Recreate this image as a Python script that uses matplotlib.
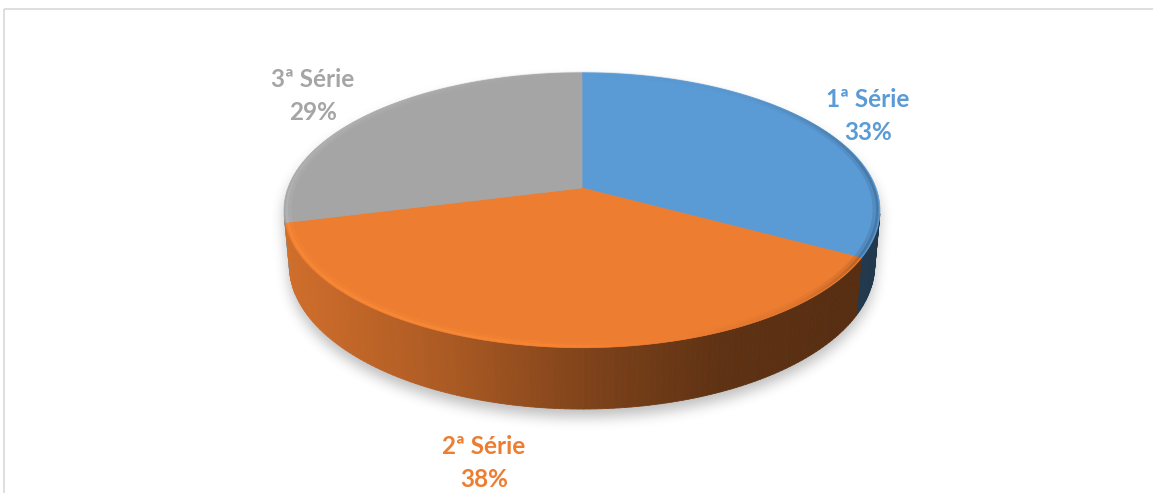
import numpy as np
import matplotlib.pyplot as plt
from matplotlib.patches import Polygon, Rectangle
from matplotlib.path import Path
from matplotlib.collections import PolyCollection, LineCollection
from matplotlib.colors import to_rgb

plt.rcParams['font.family'] = ['Lato', 'DejaVu Sans']

# dados
series = ['1ª Série', '2ª Série', '3ª Série']
values = [33, 38, 29]
colors = ['#5B9BD5', '#ED7D31', '#A5A5A5']

# geometria da pizza 3D (pixels)
W, H = 1153, 493
CX, CY = 582, 188
R = 294
ELEV = np.arcsin(0.455)
DIST = 1611
THICK = 62
label_pos = [(868, 116), (484, 463), (313, 96)]


def project(theta, r=1.0, y=0.0):
    # ponto do disco -> tela, com perspectiva
    X = r * R * np.sin(theta)
    Z = -r * R * np.cos(theta)
    vy = y * np.cos(ELEV) - Z * np.sin(ELEV)
    w = y * np.sin(ELEV) + Z * np.cos(ELEV)
    s = DIST / (DIST - w)
    return CX + X * s, CY - vy * s, w


def shade(rgb, f):
    return tuple(np.clip(np.array(rgb) * f, 0, 1))


def convex_hull(pts):
    pts = sorted(map(tuple, pts))
    def cross(o, a, b):
        return (a[0] - o[0]) * (b[1] - o[1]) - (a[1] - o[1]) * (b[0] - o[0])
    lower, upper = [], []
    for p in pts:
        while len(lower) >= 2 and cross(lower[-2], lower[-1], p) <= 0:
            lower.pop()
        lower.append(p)
    for p in reversed(pts):
        while len(upper) >= 2 and cross(upper[-2], upper[-1], p) <= 0:
            upper.pop()
        upper.append(p)
    return np.array(lower[:-1] + upper[:-1])


def box_blur(a, r):
    k = 2 * r + 1
    p = np.pad(a, ((r, r), (0, 0)), mode='edge')
    c = np.cumsum(np.vstack([np.zeros((1, p.shape[1])), p]), axis=0)
    a = (c[k:] - c[:-k]) / k
    p = np.pad(a, ((0, 0), (r, r)), mode='edge')
    c = np.cumsum(np.hstack([np.zeros((p.shape[0], 1)), p]), axis=1)
    return (c[:, k:] - c[:, :-k]) / k


fig = plt.figure(figsize=(W / 100, H / 100), dpi=100)
ax = fig.add_axes([0, 0, 1, 1])
ax.set_xlim(0, W)
ax.set_ylim(H, 0)
ax.axis('off')

ax.add_patch(Rectangle((3.5, 8.5), W, H, fill=False, edgecolor='#D9D9D9', lw=1.2))

total = sum(values)
bounds = 2 * np.pi * np.concatenate([[0], np.cumsum(values)]) / total

# sombra suave embaixo da pizza
t = np.linspace(0, 2 * np.pi, 720)
tx, ty, _ = project(t)
bx, by, _ = project(t, y=-THICK)
hull = convex_hull(np.vstack([np.column_stack([tx, ty]), np.column_stack([bx, by])]))
yy, xx = np.mgrid[0:H, 0:W]
inside = Path(hull).contains_points(np.column_stack([xx.ravel() + 0.5, yy.ravel() + 0.5 - 8]))
mask = inside.reshape(H, W).astype(float)
for _ in range(3):
    mask = box_blur(mask, 6)
sh = np.zeros((H, W, 4))
sh[..., 3] = 0.26 * mask
ax.imshow(sh, extent=(0, W, H, 0), zorder=1, interpolation='bilinear')

# laterais visiveis
limit = -R / (DIST * np.cos(ELEV))
polys, fcs, depths = [], [], []
for i in range(len(values)):
    n = int(np.degrees(bounds[i + 1] - bounds[i])) + 2
    ts = np.linspace(bounds[i], bounds[i + 1], n)
    for a, b in zip(ts[:-1], ts[1:]):
        if np.cos(a) > limit and np.cos(b) > limit:
            continue
        x0, y0, _ = project(a)
        x1, y1, _ = project(b)
        x2, y2, _ = project(b, y=-THICK)
        x3, y3, _ = project(a, y=-THICK)
        _, _, wm = project(0.5 * (a + b), y=-THICK / 2)
        f = np.interp(0.5 * (x0 + x1), [285, 450, 600, 720, 880], [0.88, 0.72, 0.52, 0.40, 0.36])
        polys.append([(x0, y0), (x1, y1), (x2, y2), (x3, y3)])
        fcs.append(shade(to_rgb(colors[i]), f))
        depths.append(wm)
order = np.argsort(depths)
ax.add_collection(PolyCollection([polys[k] for k in order],
                                 facecolors=[fcs[k] for k in order],
                                 edgecolors=[fcs[k] for k in order],
                                 linewidths=0.6, zorder=2))

# topo das fatias
for i in range(len(values)):
    ts = np.linspace(bounds[i], bounds[i + 1], 200)
    px, py, _ = project(ts)
    verts = [(CX, CY)] + list(zip(px, py))
    ax.add_patch(Polygon(verts, closed=True, facecolor=colors[i],
                         edgecolor=colors[i], lw=0.5, zorder=3))

# bisel da borda superior (suave)
for lw, rr, al in [(4.0, 0.985, 0.25), (2.0, 0.992, 0.45)]:
    segs, scol = [], []
    for i in range(len(values)):
        ts = np.linspace(bounds[i], bounds[i + 1], 120)
        px, py, _ = project(ts, r=rr)
        for k in range(len(ts) - 1):
            deg = np.degrees(0.5 * (ts[k] + ts[k + 1]))
            f = np.interp(deg, [0, 40, 80, 115, 140, 200, 250, 300, 360],
                          [1.0, 0.95, 0.65, 0.6, 0.9, 1.15, 1.15, 1.1, 1.0])
            segs.append([(px[k], py[k]), (px[k + 1], py[k + 1])])
            scol.append(shade(to_rgb(colors[i]), f))
    ax.add_collection(LineCollection(segs, colors=scol, linewidths=lw, alpha=al, zorder=4))

# rotulos
for i, (lx, ly) in enumerate(label_pos):
    pct = round(100 * values[i] / total)
    ax.text(lx, ly, f"{series[i]}\n{pct}%", color=colors[i], fontsize=17.5,
            fontweight='bold', ha='center', va='center', linespacing=1.5, zorder=5)

fig.savefig('out.png', dpi=100)
